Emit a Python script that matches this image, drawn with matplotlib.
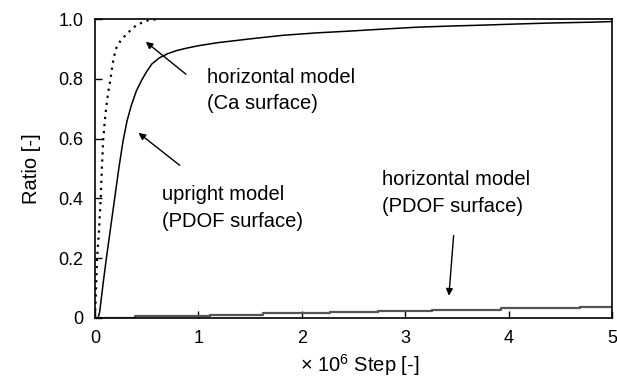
import numpy as np
import matplotlib.pyplot as plt

plt.rcParams['font.family'] = ['Liberation Sans', 'DejaVu Sans']
plt.rcParams['mathtext.fontset'] = 'custom'
plt.rcParams['mathtext.rm'] = 'Liberation Sans'
#------------------------------
# horizontal model (Ca surface), dotted
ca_x = [0, 0.01, 0.02, 0.04, 0.055, 0.066, 0.08, 0.1, 0.125, 0.15, 0.17, 0.2, 0.25, 0.32, 0.4, 0.5, 0.6]
ca_y = [0, 0.1, 0.2, 0.3, 0.4, 0.5, 0.6, 0.68, 0.75, 0.8, 0.85, 0.9, 0.93, 0.955, 0.98, 0.995, 1.0]

# upright model (PDOF surface), solid
up_x = [0, 0.03, 0.045, 0.08, 0.11, 0.15, 0.19, 0.23, 0.27, 0.31, 0.35, 0.4, 0.45, 0.5, 0.55,
        0.62, 0.7, 0.79, 0.9, 1.0, 1.18, 1.5, 1.82, 2.14, 2.46, 2.8, 3.11, 3.45, 3.75, 4.1,
        4.4, 4.82, 5.0]
up_y = [0, 0, 0.02, 0.12, 0.2, 0.3, 0.4, 0.5, 0.59, 0.66, 0.71, 0.76, 0.795, 0.825, 0.85,
        0.87, 0.884, 0.895, 0.904, 0.911, 0.921, 0.934, 0.946, 0.954, 0.96, 0.967, 0.973, 0.977,
        0.98, 0.984, 0.987, 0.99, 0.992]

# horizontal model (PDOF surface), steps
pd_x = [0, 0.39, 1.11, 1.62, 2.27, 2.74, 3.26, 3.93, 4.69, 5.0]
pd_y = [0, 0.006, 0.011, 0.015, 0.02, 0.023, 0.028, 0.034, 0.038, 0.038]
#------------------------------
fig = plt.figure(figsize=(6.17, 3.83), dpi=100)
ax = fig.add_axes([0.154, 0.170, 0.838, 0.780])

ax.plot(ca_x, ca_y, color='black', ls=(0, (1, 2.2)), lw=1.6)
ax.plot(up_x, up_y, color='black', lw=1.1)
ax.step(pd_x, pd_y, where='post', color='#555555', lw=1.6)

ax.set_xlim(0, 5)
ax.set_ylim(0, 1.0)
ax.set_xticks([0, 1, 2, 3, 4, 5])
ax.set_yticks([0, 0.2, 0.4, 0.6, 0.8, 1.0])
ax.set_yticklabels(['0', '0.2', '0.4', '0.6', '0.8', '1.0'])
ax.tick_params(direction='in', length=5, width=1, labelsize=13, pad=8.5)
for s in ax.spines.values():
    s.set_linewidth(1.2)

ax.set_ylabel('Ratio [-]', fontsize=14.5, labelpad=12)
ax.set_xlabel(r'× 10$^{\mathregular{6}}$ Step [-]', fontsize=14.5, labelpad=5)
ax.xaxis.set_label_coords(0.512, -0.115)

fs = 14.5
ls = 1.5
arr = dict(arrowstyle='-|>', color='black', lw=1, mutation_scale=10)
ax.annotate('', xy=(0.47, 0.93), xytext=(0.9, 0.81), arrowprops=arr)
ax.text(1.08, 0.837, 'horizontal model\n(Ca surface)', fontsize=fs, va='top', ha='left',
        linespacing=ls)

ax.annotate('', xy=(0.4, 0.625), xytext=(0.84, 0.505), arrowprops=arr)
ax.text(0.645, 0.444, 'upright model\n(PDOF surface)', fontsize=fs, va='top', ha='left',
        linespacing=ls)

ax.annotate('', xy=(3.42, 0.065), xytext=(3.47, 0.285), arrowprops=arr)
ax.text(2.78, 0.494, 'horizontal model\n(PDOF surface)', fontsize=fs, va='top', ha='left',
        linespacing=ls)

fig.savefig('out.png', dpi=100)
